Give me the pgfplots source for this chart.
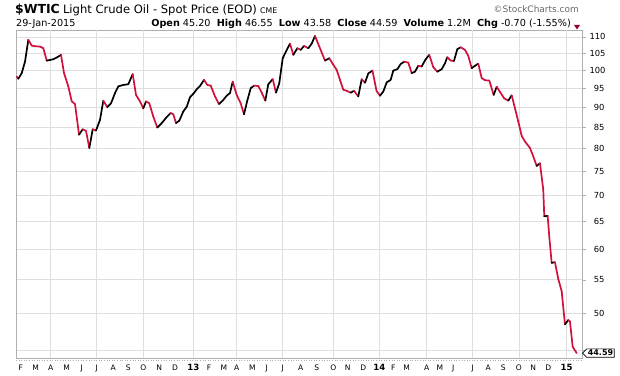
\documentclass[border=0pt]{standalone}
\usepackage{pgfplots}
\pgfplotsset{compat=1.18}
\usepackage{fontspec}
\setmainfont{DejaVu Sans}
\usetikzlibrary{shapes.symbols}
\definecolor{downred}{RGB}{210,16,58}
\definecolor{gridgray}{RGB}{222,222,222}
\definecolor{framegray}{RGB}{175,175,175}
\definecolor{chgred}{RGB}{150,0,50}

\pgfplotstableread{
x y m
0.687 98.2 0
0.789 97.6 1
1.008 99.2 1
1.219 102.5 1
1.431 109.1 0
1.649 107.3 0
1.861 107.1 0
2.182 107.0 0
2.394 106.5 0
2.612 102.8 1
2.824 103.0 1
3.036 103.2 1
3.254 103.7 1
3.530 104.5 0
3.722 99.2 0
3.998 95.5 0
4.217 91.5 0
4.428 90.8 0
4.685 83.2 1
4.923 84.5 0
5.134 84.1 0
5.346 80.1 1
5.564 84.5 0
5.776 84.2 1
6.033 86.8 1
6.245 91.7 0
6.501 90.0 1
6.739 91.0 1
6.996 93.7 1
7.207 95.5 1
7.528 95.9 1
7.849 96.1 1
8.132 98.9 0
8.343 93.2 0
8.600 91.5 0
8.812 89.7 1
8.985 91.5 0
9.197 91.0 0
9.454 87.6 0
9.710 84.9 1
9.993 86.0 1
10.314 87.5 1
10.570 88.5 0
10.737 88.2 0
10.911 86.0 1
11.122 86.6 1
11.379 88.9 1
11.597 90.1 1
11.809 92.6 1
12.021 93.5 1
12.239 94.7 1
12.451 95.6 1
12.708 97.3 0
12.919 95.9 0
13.138 95.7 0
13.414 92.8 0
13.670 90.8 1
13.908 91.7 1
14.165 93.0 1
14.376 93.7 1
14.550 96.8 0
14.806 93.2 0
15.063 91.0 0
15.275 88.2 1
15.487 91.7 1
15.705 95.0 1
15.917 95.7 0
16.193 95.6 0
16.411 93.8 0
16.642 91.7 1
16.834 96.1 1
17.117 97.5 0
17.329 93.8 1
17.540 96.4 1
17.759 103.5 1
17.970 105.5 1
18.227 107.9 0
18.439 104.5 1
18.696 106.5 0
18.914 106.0 1
19.126 107.2 0
19.402 106.5 1
19.620 107.9 1
19.832 110.3 0
20.108 107.0 0
20.473 102.8 1
20.749 103.5 0
21.006 101.6 0
21.224 100.1 0
21.436 97.3 0
21.648 94.6 0
21.866 94.3 0
22.123 93.8 1
22.335 94.3 0
22.611 92.8 1
22.829 97.5 0
23.041 96.5 1
23.252 99.1 1
23.522 99.9 0
23.779 94.3 0
24.003 93.0 1
24.215 94.1 1
24.433 96.6 1
24.690 97.3 1
24.857 99.9 1
25.114 100.3 1
25.332 101.8 1
25.563 102.5 0
25.820 102.2 0
26.038 99.2 1
26.250 99.6 1
26.461 101.3 0
26.680 101.1 1
26.937 103.2 1
27.167 104.5 0
27.424 100.9 0
27.681 99.6 1
27.963 100.3 1
28.175 102.0 1
28.323 103.8 0
28.541 102.8 0
28.753 102.7 1
28.965 106.2 1
29.183 106.8 0
29.459 106.0 0
29.670 104.2 0
29.889 100.6 1
30.100 101.3 1
30.312 101.9 0
30.530 97.8 0
30.742 97.2 0
31.018 97.1 0
31.301 93.2 1
31.493 95.4 0
31.724 93.9 0
31.974 92.3 0
32.238 91.7 1
32.456 93.1 0
32.668 89.7 0
32.879 86.4 0
33.098 82.9 0
33.309 81.6 0
33.630 80.1 0
33.842 78.2 0
34.060 76.1 1
34.272 76.7 0
34.484 71.1 0
34.548 65.9 1
34.766 66.0 0
34.869 62.2 0
35.023 57.7 1
35.235 57.8 0
35.447 55.1 0
35.665 53.2 0
35.877 48.4 1
36.088 49.0 0
36.198 48.8 0
36.371 45.4 0
36.627 44.59 0
}\wtic

\begin{document}
\begin{tikzpicture}
\useasboundingbox (0,0) rectangle (620bp,376bp);
\begin{axis}[
  name=ax,
  at={(16bp,18bp)}, anchor=south west,
  scale only axis, width=566bp, height=328bp,
  xmin=0.64, xmax=36.97,
  ymode=log, ymin=43.97, ymax=112.2,
  axis line style={framegray},
  ytick={45,50,55,60,65,70,75,80,85,90,95,100,105,110},
  yticklabels={,50,55,60,65,70,75,80,85,90,95,100,105,110},
  ytick pos=right, yticklabel pos=right,
  tick align=outside, major tick length=4bp,
  y tick style={framegray},
  ymajorgrids,
  grid style={gridgray, line width=0.6pt},
  yticklabel style={font=\fontsize{8.4}{10}\selectfont, text width=15bp, align=right},
  xtick={0.943,1.906,2.869,3.896,4.858,5.821,6.886,7.849,8.812,9.839,10.846,12.021,
         13.029,13.991,14.806,15.807,16.731,17.759,18.920,19.941,21.006,21.930,22.931,23.958,
         24.857,25.717,27.0,27.854,28.708,29.953,30.954,31.917,32.924,33.842,34.805,35.985},
  xticklabels={F,M,A,M,J,J,A,S,O,N,D,\textbf{\fontsize{8.6}{9}\selectfont 13},
               F,M,A,M,J,J,A,S,O,N,D,\textbf{\fontsize{8.6}{9}\selectfont 14},
               F,M,A,M,J,J,A,S,O,N,D,\textbf{\fontsize{8.6}{9}\selectfont 15}},
  x tick style={draw=none},
  xticklabel style={font=\fontsize{7.6}{8}\selectfont, text=black, yshift=1bp},
  colormap={updown}{color(0)=(downred) color(1)=(black)},
  point meta min=0, point meta max=1,
  clip=false,
]
% quarterly vertical grid lines
\pgfplotsinvokeforeach{2.869,5.821,8.812,12.021,14.806,17.759,21.006,23.958,26.956,29.953,32.956,35.941}{
  \draw[gridgray, line width=0.6pt] (axis cs:#1,43.97) -- (axis cs:#1,112.2);
}
\addplot[mesh, point meta=explicit, shader=flat corner, line width=1.7pt, line cap=round]
  table[x=x, y=y, meta=m] {\wtic};
\node[signal, signal to=west, draw=black, fill=white, line width=0.7pt,
      inner sep=1.2pt, anchor=west,
      font=\bfseries\fontsize{8}{9}\selectfont]
  at (axis cs:36.97,44.59) {44.59};
\end{axis}
\draw[framegray, dotted, line width=0.6pt] ([yshift=-2bp]ax.south west) -- ([yshift=-2bp]ax.south east);
% header
\node[anchor=base west, inner sep=0pt] at (15bp,362bp)
  {{\bfseries\fontsize{12.5}{13}\selectfont \$WTIC}\ {\fontsize{11.6}{12}\selectfont Light Crude Oil - Spot Price (EOD)}\ {\fontsize{7.8}{8}\selectfont CME}};
\node[anchor=base west, inner sep=0pt, font=\fontsize{9.7}{10}\selectfont] at (16bp,349bp) {29-Jan-2015};
\node[anchor=base east, inner sep=0pt, font=\fontsize{9.7}{10}\selectfont] at (571bp,349bp)
  {\textbf{Open} 45.20 \ \textbf{High} 46.55 \ \textbf{Low} 43.58 \ \textbf{Close} 44.59 \ \textbf{Volume} 1.2M \ \textbf{Chg} -0.70 (-1.55\%)};
\fill[chgred] (574bp,351bp) -- (580bp,351bp) -- (577bp,346.5bp) -- cycle;
\node[anchor=base east, inner sep=0pt, text=black!60, font=\fontsize{9}{10}\selectfont] at (579bp,363bp) {©StockCharts.com};
\end{tikzpicture}
\end{document}
